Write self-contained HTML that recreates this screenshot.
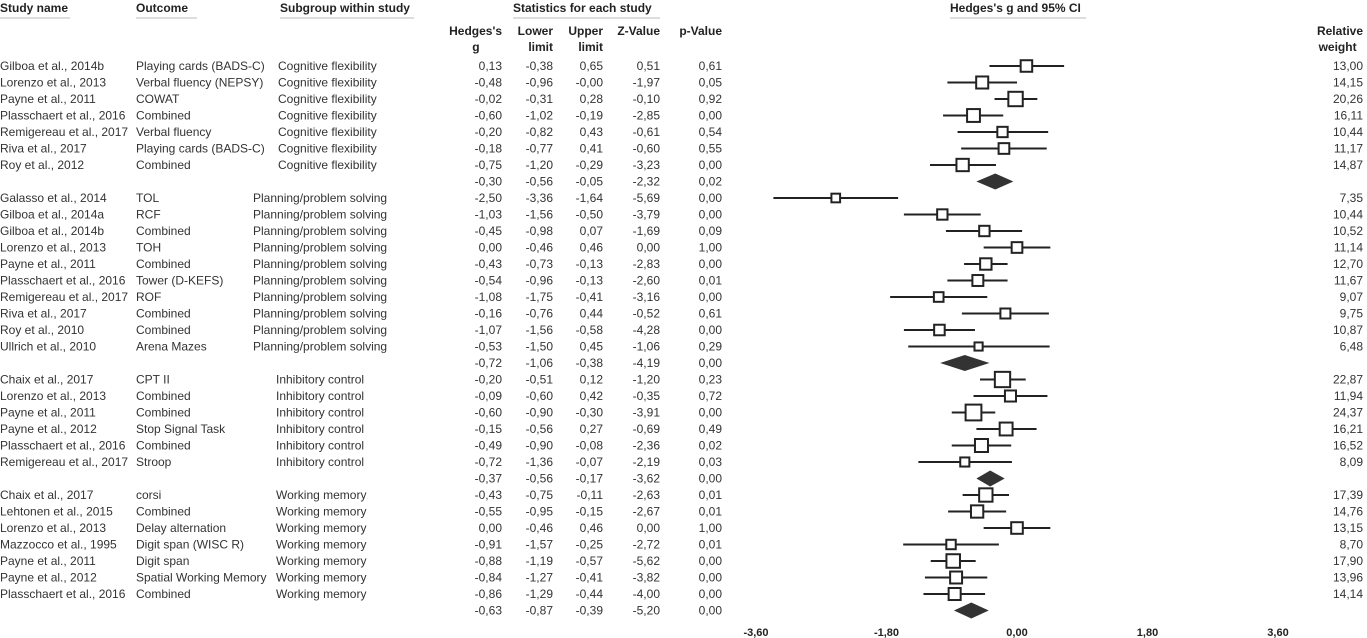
<!DOCTYPE html>
<html><head><meta charset="utf-8"><style>
body{margin:0;background:#fff;width:1367px;height:638px;overflow:hidden}
svg{display:block;font-family:"Liberation Sans",Arial,sans-serif}
</style></head><body>
<svg id="c" width="1367" height="638"></svg>
<script>
const studies=["Gilboa et al., 2014b","Lorenzo et al., 2013","Payne et al., 2011","Plasschaert et al., 2016","Remigereau et al., 2017","Riva et al., 2017","Roy et al., 2012","",
"Galasso et al., 2014","Gilboa et al., 2014a","Gilboa et al., 2014b","Lorenzo et al., 2013","Payne et al., 2011","Plasschaert et al., 2016","Remigereau et al., 2017","Riva et al., 2017","Roy et al., 2010","Ullrich et al., 2010","",
"Chaix et al., 2017","Lorenzo et al., 2013","Payne et al., 2011","Payne et al., 2012","Plasschaert et al., 2016","Remigereau et al., 2017","",
"Chaix et al., 2017","Lehtonen et al., 2015","Lorenzo et al., 2013","Mazzocco et al., 1995","Payne et al., 2011","Payne et al., 2012","Plasschaert et al., 2016",""];
const outcomes=["Playing cards (BADS-C)","Verbal fluency (NEPSY)","COWAT","Combined","Verbal fluency","Playing cards (BADS-C)","Combined","",
"TOL","RCF","Combined","TOH","Combined","Tower (D-KEFS)","ROF","Combined","Combined","Arena Mazes","",
"CPT II","Combined","Combined","Stop Signal Task","Combined","Stroop","",
"corsi","Combined","Delay alternation","Digit span (WISC R)","Digit span","Spatial Working Memory","Combined",""];
const subgroups=["Cognitive flexibility","Planning/problem solving","Inhibitory control","Working memory"];
const groupSizes=[7,10,6,7];
const hedges=[0.13,-0.48,-0.02,-0.60,-0.20,-0.18,-0.75,-0.30,-2.50,-1.03,-0.45,0.00,-0.43,-0.54,-1.08,-0.16,-1.07,-0.53,-0.72,-0.20,-0.09,-0.60,-0.15,-0.49,-0.72,-0.37,-0.43,-0.55,0.00,-0.91,-0.88,-0.84,-0.86,-0.63];
const lower=[-0.38,-0.96,-0.31,-1.02,-0.82,-0.77,-1.20,-0.56,-3.36,-1.56,-0.98,-0.46,-0.73,-0.96,-1.75,-0.76,-1.56,-1.50,-1.06,-0.51,-0.60,-0.90,-0.56,-0.90,-1.36,-0.56,-0.75,-0.95,-0.46,-1.57,-1.19,-1.27,-1.29,-0.87];
const upper=[0.65,-0.00,0.28,-0.19,0.43,0.41,-0.29,-0.05,-1.64,-0.50,0.07,0.46,-0.13,-0.13,-0.41,0.44,-0.58,0.45,-0.38,0.12,0.42,-0.30,0.27,-0.08,-0.07,-0.17,-0.11,-0.15,0.46,-0.25,-0.57,-0.41,-0.44,-0.39];
const zvals=[0.51,-1.97,-0.10,-2.85,-0.61,-0.60,-3.23,-2.32,-5.69,-3.79,-1.69,0.00,-2.83,-2.60,-3.16,-0.52,-4.28,-1.06,-4.19,-1.20,-0.35,-3.91,-0.69,-2.36,-2.19,-3.62,-2.63,-2.67,0.00,-2.72,-5.62,-3.82,-4.00,-5.20];
const pvals=[0.61,0.05,0.92,0.00,0.54,0.55,0.00,0.02,0.00,0.00,0.09,1.00,0.00,0.01,0.00,0.61,0.00,0.29,0.00,0.23,0.72,0.00,0.49,0.02,0.03,0.00,0.01,0.01,1.00,0.01,0.00,0.00,0.00,0.00];
const weights=[13.00,14.15,20.26,16.11,10.44,11.17,14.87,null,7.35,10.44,10.52,11.14,12.70,11.67,9.07,9.75,10.87,6.48,null,22.87,11.94,24.37,16.21,16.52,8.09,null,17.39,14.76,13.15,8.70,17.90,13.96,14.14,null];
const ticks=[-3.6,-1.8,0,1.8,3.6];
const subX=[278,253,276,276];

const svg=document.getElementById('c');const NS='http://www.w3.org/2000/svg';
function el(t,a,txt){const e=document.createElementNS(NS,t);for(const k in a)e.setAttribute(k,a[k]);if(txt!==undefined)e.textContent=txt;svg.appendChild(e);return e;}
function fmt(v){return (v<0||Object.is(v,-0)?'-':'')+Math.abs(v).toFixed(2).replace('.',',');}
const xs=v=>1017+v*72.5;
const ys=i=>62+i*16.5;
const hdr=[["Study name",0,"start"],["Outcome",136,"start"],["Subgroup within study",280,"start"],["Statistics for each study",513,"start"],["Hedges's g and 95% CI",950,"start"]];
hdr.forEach(h=>{const t=el('text',{x:h[1],y:12,'font-size':12,'font-weight':'bold','text-anchor':h[2],fill:'#222'},h[0]);

});
[[0,70],[136,197],[280,414],[513,660],[950,1086]].forEach(u=>{const l=el('line',{x1:u[0],x2:u[1],y1:18,y2:18,stroke:'#bbb','stroke-width':1});

});
const sub=[["Hedges's","g",502],["Lower","limit",553],["Upper","limit",603],["Z-Value","",660],["p-Value","",722],["Relative","weight",1363]];
sub.forEach(s=>{const a=el('text',{x:s[2],y:35,'font-size':12,'font-weight':'bold','text-anchor':'end',fill:'#222'},s[0]);


if(s[1]){const b=el('text',{x:s[2]-(s[0].length*6.4-s[1].length*6.4)/2,y:51,'font-size':12,'font-weight':'bold','text-anchor':'end',fill:'#222'},s[1]);

}});
let gi=0;
for(let i=0;i<hedges.length;i++){
 const y=ys(i),cy=y+4;const isSum=studies[i]==="";
 if(!isSum){
  const a=el('text',{x:0,y:y+8,'font-size':12,fill:'#333'},studies[i]);
  
  
  const b=el('text',{x:136,y:y+8,'font-size':12,fill:'#333'},outcomes[i]);
  
  
  const c=el('text',{x:subX[gi],y:y+8,'font-size':12,fill:'#333'},subgroups[gi]);
  
  
  const w=el('text',{x:1363,y:y+8,'font-size':12,'text-anchor':'end',fill:'#333'},weights[i].toFixed(2).replace('.',','));
  
  
  const ci=el('line',{x1:xs(lower[i]),x2:xs(upper[i]),y1:cy,y2:cy,stroke:'#222','stroke-width':2});
  
  
  const s=3.2*Math.sqrt(weights[i]);
  const r=el('rect',{x:xs(hedges[i])-s/2,y:cy-s/2,width:s,height:s,fill:'#fff',stroke:'#222','stroke-width':2});
  
  
 } else {
  const d=el('polygon',{points:`${xs(lower[i])},${cy} ${xs(hedges[i])},${cy-8} ${xs(upper[i])},${cy} ${xs(hedges[i])},${cy+8}`,fill:'#333'});
  
  
  gi++;
 }
 const vals=[hedges[i],lower[i],upper[i],zvals[i]];const cx=[502,553,603,660];
 vals.forEach((v,k)=>{const t=el('text',{x:cx[k],y:y+8,'font-size':12,'text-anchor':'end',fill:'#333'},fmt(v));
  
  });
 const p=el('text',{x:722,y:y+8,'font-size':12,'text-anchor':'end',fill:'#333'},pvals[i].toFixed(2).replace('.',','));
 
 
}
ticks.forEach(t=>{const e=el('text',{x:xs(t),y:636,'font-size':11,'font-weight':'bold','text-anchor':'middle',fill:'#222'},fmt(t));

});
</script>
</body></html>
